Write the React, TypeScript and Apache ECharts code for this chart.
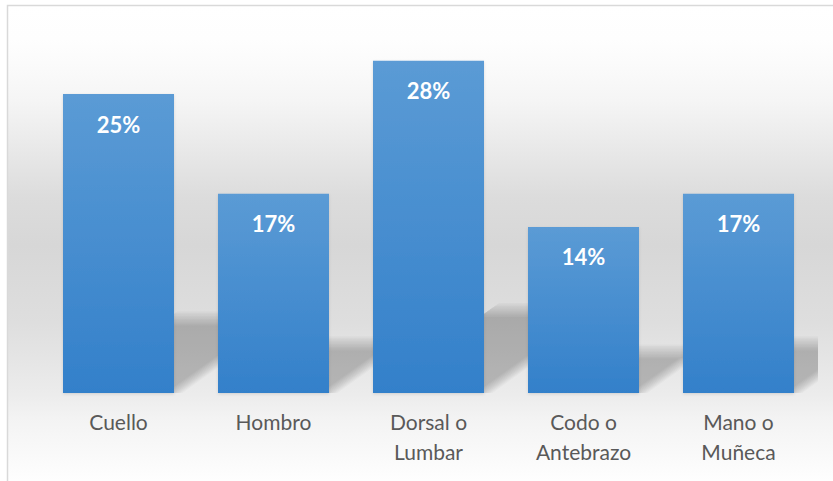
import React, { useEffect, useRef } from "react";
import * as echarts from "echarts";

const categories = ["Cuello", "Hombro", "Dorsal o\nLumbar", "Codo o\nAntebrazo", "Mano o\nMuñeca"];
const values = [25.0, 16.67, 27.78, 13.89, 16.67];
const yMax = 30;

export default function App() {
  const ref = useRef<HTMLDivElement>(null);
  useEffect(() => {
    const chart = echarts.init(ref.current!, null, { renderer: "svg" });
    const W = 833, H = 481;
    const option: any = {
      animation: false,
      graphic: {
        elements: [
          {
            type: "rect",
            z: -100,
            silent: true,
            shape: { x: 7, y: 5, width: W, height: H },
            style: {
              fill: new echarts.graphic.LinearGradient(0, 0, 0, 1, [
                { offset: 0, color: "#ffffff" },
                { offset: 0.07, color: "#fefefe" },
                { offset: 0.12, color: "#fbfbfb" },
                { offset: 0.2, color: "#f5f5f5" },
                { offset: 0.28, color: "#ebebeb" },
                { offset: 0.4, color: "#dcdcdc" },
                { offset: 0.5, color: "#d7d7d7" },
                { offset: 0.66, color: "#dedede" },
                { offset: 0.81, color: "#ececec" },
                { offset: 0.86, color: "#f3f3f3" },
                { offset: 1, color: "#ffffff" },
              ]),
            },
          },
          {
            type: "rect",
            z: 100,
            silent: true,
            shape: { x: 7.5, y: 5.5, width: W + 20, height: H + 20 },
            style: { fill: "none", stroke: "#d9d9d9", lineWidth: 1.5 },
          },
        ],
      },
      grid: { left: 41, right: 17, top: 393 - yMax * 11.96, bottom: 88 },
      xAxis: {
        type: "category",
        data: categories,
        axisLine: { show: false },
        axisTick: { show: false },
        axisLabel: {
          color: "#595959",
          fontFamily: "Lato",
          fontSize: 21,
          lineHeight: 30,
          margin: 13,
          interval: 0,
        },
      },
      yAxis: {
        type: "value",
        min: 0,
        max: yMax,
        show: false,
        splitLine: { show: false },
      },
      series: [
        {
          type: "custom",
          z: 1,
          silent: true,
          data: values.map((v, i) => [i, v]),
          encode: { x: 0, y: 1 },
          renderItem: (params: any, api: any) => {
            const i = api.value(0);
            const v = api.value(1);
            const base = api.coord([i, 0]);
            const top = api.coord([i, v]);
            const bw = api.size([1, 0])[0] * (111 / 155);
            const xl = base[0] - bw / 2;
            const xr0 = base[0] + bw / 2;
            const yb = base[1];
            const h0 = (base[1] - top[1]) * 0.25;
            const R = params.coordSys.x + params.coordSys.width + 2;
            const N = 10;
            const B = 7;
            const children: any[] = [];
            for (let k = 0; k < N; k++) {
              const d = -B + (2 * B * k) / (N - 1);
              const h = h0 - d;
              const s = h * 1.4;
              const xr = xr0 - d * 1.2;
              const yt = yb - h;
              const pts: number[][] = [[xl, yb], [xr, yb]];
              if (xr + s > R) {
                pts.push([R, yb - ((R - xr) / s) * h]);
                pts.push([R, yt]);
              } else {
                pts.push([xr + s, yt]);
              }
              pts.push([Math.min(xl + s, R), yt]);
              children.push({
                type: "polygon",
                shape: { points: pts },
                style: { fill: "rgba(0,0,0,0.024)" },
              });
            }
            return { type: "group", children };
          },
        },
        {
          type: "bar",
          z: 2,
          data: values,
          barWidth: 111,
          itemStyle: {
            color: new echarts.graphic.LinearGradient(0, 0, 0, 1, [
              { offset: 0, color: "#5b9bd5" },
              { offset: 1, color: "#3380ca" },
            ]),
            shadowColor: "rgba(0,0,0,0.12)",
            shadowBlur: 3,
            shadowOffsetY: 1,
          },
          label: {
            show: true,
            position: "insideTop",
            distance: 19,
            color: "#ffffff",
            fontFamily: "Lato",
            fontWeight: "bold",
            fontSize: 22,
            formatter: (p: any) => Math.round(p.value) + "%",
          },
        },
      ],
    };
    chart.setOption(option);
    return () => chart.dispose();
  }, []);
  return (
    <div
      ref={ref}
      style={{ position: "fixed", left: 0, top: 0, width: 833, height: 481, background: "#ffffff" }}
    />
  );
}
